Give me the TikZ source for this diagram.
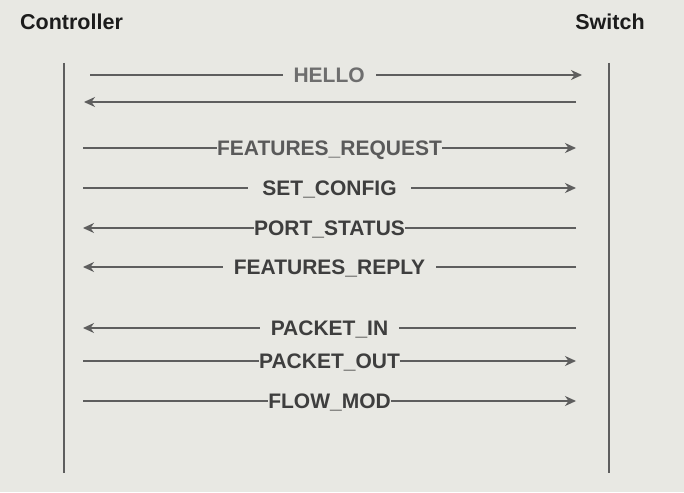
\documentclass[tikz,border=0pt]{standalone}
\usepackage{fontspec}
\setmainfont{Liberation Sans}
\usetikzlibrary{arrows.meta}
\definecolor{sqbg}{HTML}{E8E8E3}
\definecolor{sqline}{HTML}{5E5E5E}
\definecolor{sqhead}{HTML}{1C1C1C}
\definecolor{sqtext}{HTML}{3E3E3E}
\definecolor{sqsoft}{HTML}{5A5A5A}
\definecolor{sqpale}{HTML}{6E6E6E}
\tikzset{
  head/.style = {font=\fontsize{21.5}{24}\selectfont\bfseries, text=sqhead,
                 inner sep=0pt},
  life/.style = {draw=sqline, line width=1.4pt},
  msg/.style  = {-{Stealth[length=11pt,width=10pt,inset=3.5pt]}, draw=sqline,
                 line width=1.4pt},
  lbl/.style  = {font=\fontsize{21}{24}\selectfont\bfseries, text=sqtext,
                 fill=sqbg, inner xsep=0pt, inner ysep=0pt,
                 text height=15pt, text depth=0pt},
  gap/.style  = {inner xsep=11pt},
}

\begin{document}
\begin{tikzpicture}[x=1pt, y=-1pt]
  \fill[sqbg] (0,0) rectangle (684,492);
  \useasboundingbox (0,0) rectangle (684,492);

  % heads and lifelines
  \node[head] (ctl) at (71.5,22) {Controller};
  \node[head] (sw) at (610,22) {Switch};
  \coordinate (ctltop) at (64,63);
  \coordinate (ctlbot) at (64,473);
  \coordinate (swtop) at (609,63);
  \coordinate (swbot) at (609,473);
  \draw[life] (ctltop) -- (ctlbot);
  \draw[life] (swtop) -- (swbot);

  % message ends
  \coordinate (c-hello) at (90,75);
  \coordinate (s-hello) at (582,75);
  \coordinate (c-back) at (84,102);
  \coordinate (s-back) at (576,102);
  \foreach \n/\y in {freq/148, setc/188, port/228, frep/267,
                     pin/328, pout/361, flow/401} {
    \coordinate (c-\n) at (83,\y);
    \coordinate (s-\n) at (576,\y);
  }

  % messages
  \draw[msg] (c-hello) -- node[lbl, gap, text=sqpale, pos=0.486]{HELLO} (s-hello);
  \draw[msg] (s-back) -- (c-back);
  \draw[msg] (c-freq) -- node[lbl, text=sqsoft]{FEATURES\_REQUEST} (s-freq);
  \draw[msg] (c-setc) -- node[lbl, inner xsep=14pt]{SET\_CONFIG} (s-setc);
  \draw[msg] (s-port) -- node[lbl]{PORT\_STATUS} (c-port);
  \draw[msg] (s-frep) -- node[lbl, gap]{FEATURES\_REPLY} (c-frep);
  \draw[msg] (s-pin) -- node[lbl, gap]{PACKET\_IN} (c-pin);
  \draw[msg] (c-pout) -- node[lbl]{PACKET\_OUT} (s-pout);
  \draw[msg] (c-flow) -- node[lbl]{FLOW\_MOD} (s-flow);
\end{tikzpicture}
\end{document}
